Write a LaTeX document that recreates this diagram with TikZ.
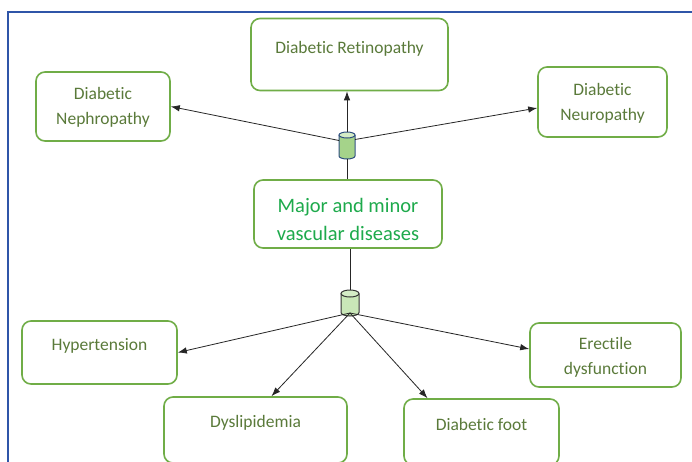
\documentclass[tikz,border=0pt]{standalone}
\usepackage{fontspec}
\setmainfont{Carlito}[Ligatures={NoCommon}]
\usetikzlibrary{arrows.meta}
\definecolor{boxgreen}{HTML}{70AD47}
\definecolor{txtgreen}{HTML}{5A7A3A}
\definecolor{maingreen}{HTML}{1EAA4C}
\definecolor{frameblue}{HTML}{2F55A8}
\definecolor{cylfill}{HTML}{A5D38A}
\definecolor{cyltop}{HTML}{D4ECC6}
\definecolor{cylfilltwo}{HTML}{C9E7B8}
\definecolor{cylblue}{HTML}{2F4F80}
\tikzset{
  box/.style={draw=boxgreen, line width=1.6pt, rounded corners=9pt, fill=white},
  lbl/.style={text=txtgreen, font=\fontsize{17.5}{25}\selectfont, align=center, inner sep=0pt},
  mainlbl/.style={text=maingreen, font=\fontsize{20.5}{28}\selectfont, align=center, inner sep=0pt},
  conn/.style={draw=black!85, line width=0.8pt},
  arr/.style={conn, -{Latex[length=9pt,width=6.5pt]}},
  anchorbox/.style={draw=none, inner sep=0pt, outer sep=0pt},
}
\begin{document}
\begin{tikzpicture}[x=1pt,y=-1pt]
\useasboundingbox (0,0) rectangle (692,461);
\clip (0,0) rectangle (692,461);
\fill[white] (0,0) rectangle (692,461);
% frame
\draw[frameblue, line width=1.6pt] (8,470) -- (8,12) -- (700,12);
% boxes
\node[box, minimum width=197pt, minimum height=72pt] (ret) at (349.5,54.5) {};
\node[lbl] at (349.5,49) {Diabetic Retinopathy};
\node[box, minimum width=134pt, minimum height=69pt] (neph) at (103,106.5) {};
\node[lbl] at (103,107) {Diabetic\\Nephropathy};
\node[box, minimum width=129pt, minimum height=70pt] (neu) at (602.5,102) {};
\node[lbl] at (602.5,103) {Diabetic\\Neuropathy};
\node[box, minimum width=188pt, minimum height=68pt] (main) at (348,214) {};
\node[mainlbl] at (348,219) {Major and minor\\vascular diseases};
\node[box, minimum width=155pt, minimum height=63pt] (hyp) at (99.5,352.5) {};
\node[lbl] at (99.5,346) {Hypertension};
\node[box, minimum width=151pt, minimum height=64pt] (ere) at (605.5,355) {};
\node[lbl] at (605.5,357) {Erectile\\dysfunction};
\node[box, minimum width=183pt, minimum height=66pt] (dys) at (255.5,430) {};
\node[lbl] at (255.5,423) {Dyslipidemia};
\node[box, minimum width=155pt, minimum height=66pt] (foot) at (481.5,432) {};
\node[lbl] at (481.5,424) {Diabetic foot};
% cylinder 1 (x 339-355, y 132-159)
\node[anchorbox, minimum width=16pt, minimum height=27pt] (c1) at (347,145.5) {};
\fill[cylfill] (339,135) rectangle (355,156);
\fill[cylfill] (347,156) ellipse [x radius=8, y radius=3];
\draw[cylblue, line width=1pt] (339,135) -- (339,156) arc [start angle=180, end angle=0, x radius=8, y radius=3] -- (355,135);
\draw[cylblue, line width=1pt, fill=cyltop] (347,135) ellipse [x radius=8, y radius=3];
% cylinder 2 (x 341-359, y 290-316)
\node[anchorbox, minimum width=18pt, minimum height=26pt] (c2) at (350,303) {};
\fill[cylfilltwo] (341,293.5) rectangle (359,312.5);
\fill[cylfilltwo] (350,312.5) ellipse [x radius=9, y radius=3.5];
\draw[black!80, line width=1pt] (341,293.5) -- (341,312.5) arc [start angle=180, end angle=0, x radius=9, y radius=3.5] -- (359,293.5);
\draw[black!80, line width=1pt, fill=cyltop] (350,293.5) ellipse [x radius=9, y radius=3.5];
% connectors top
\draw[arr] (c1.north) -- (c1.north |- ret.south);
\draw[arr] ([yshift=5pt]c1.west) -- (neph.east);
\draw[arr] ([yshift=6pt]c1.east) -- ([yshift=-6pt]neu.west);
\draw[conn] (c1.south) -- (c1.south |- main.north);
% connectors bottom
\draw[conn] (c2.north |- main.south) -- (c2.north);
\coordinate (c2b) at ([yshift=3pt]c2.south);
\draw[arr] (c2b) -- (hyp.east);
\draw[arr] (c2b) -- ([xshift=16pt]dys.north);
\draw[arr] (c2b) -- ([xshift=-54pt]foot.north);
\draw[arr] (c2b) -- ([yshift=6pt]ere.west);
\end{tikzpicture}
\end{document}
